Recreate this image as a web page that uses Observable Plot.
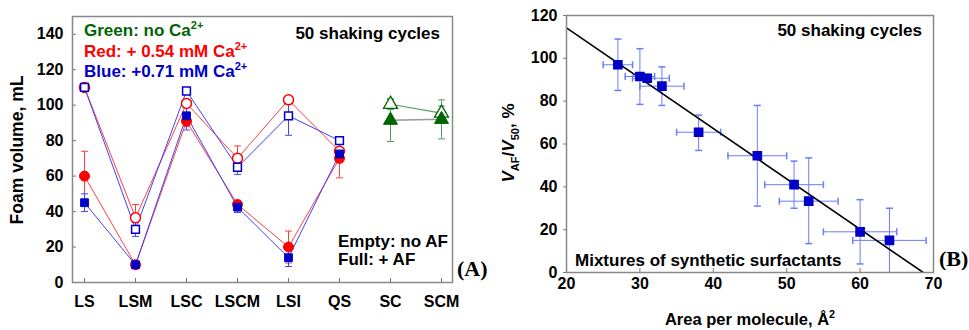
<!DOCTYPE html>
<html>
<head>
<meta charset="utf-8">
<script src="https://cdn.jsdelivr.net/npm/d3@7"></script>
<script src="https://cdn.jsdelivr.net/npm/@observablehq/plot@0.6"></script>
<style>
  body { margin: 0; background: #fff; }
  #wrap { position: relative; width: 969px; height: 330px; overflow: hidden; background: #fff; }
  #left { position: absolute; left: 0; top: 0; }
  #right { position: absolute; left: 480px; top: 0; }
  #wrap svg { overflow: visible; }
</style>
</head>
<body>
<div id="wrap"><div id="right"></div><div id="left"></div></div>
<script>
// ---------- Panel A data ----------
const allCats = ["LS", "LSM", "LSC", "LSCM", "LSI", "QS", "SC", "SCM"];
const mixCats = ["LS", "LSM", "LSC", "LSCM", "LSI", "QS"];
const redEmpty = [110, 36.5, 101, 70, 103, 74];
const redEmptyErr = [0, 7.5, 0, 7, 0, 0];
const redFull = [60, 10, 91, 44, 20, 70];
const redFullErr = [14, 0, 3, 0, 9, 11];
const blueEmpty = [110, 30, 108, 65, 94, 80];
const blueEmptyErr = [0, 4, 0, 4, 11, 0];
const blueFull = [45, 10, 94, 42.5, 14, 72.5];
const blueFullErr = [5, 0, 8, 3, 5, 0];
const greenCats = ["SC", "SCM"];
const greenEmpty = [100.5, 95.5];
const greenEmptyErr = [3, 4];
const greenFull = [91.5, 92];
const greenFullErr = [12, 11];
const yTicksA = [0, 20, 40, 60, 80, 100, 120, 140];

// ---------- Panel B data ----------
const areaX = [27, 30, 31, 33, 38, 46, 51, 53, 60, 64];
const ratioY = [97, 91.5, 90.7, 87, 65.5, 54.5, 41, 33.3, 19, 15];
const xErrLo = [25, 28, 29, 30, 35, 42, 47, 49, 55, 59];
const xErrHi = [29, 32, 34, 36, 41, 50, 55, 57, 65, 69];
const yErrLo = [85, 78.5, 89, 78, 57, 31, 30, 13.5, 4, 0];
const yErrHi = [109, 104.5, 92.5, 96, 73.5, 78, 52, 53.5, 34, 30];
const fitX = [20, 68.6];
const fitY = [114.2, 0];
const xTicksB = [20, 30, 40, 50, 60, 70];
const yTicksB = [0, 20, 40, 60, 80, 100, 120];

const RED = "#ff0000", BLUE = "#0000c8", GREEN = "#006400";
const RED_L = "#ff4040", BLUE_L = "#4040ff", GREEN_L = "#4f9f5f";
const EB_B = "#6b7cff";

const hCap = {draw(ctx) { ctx.moveTo(-3.5, 0); ctx.lineTo(3.5, 0); }};
const vCap = {draw(ctx) { ctx.moveTo(0, -3.5); ctx.lineTo(0, 3.5); }};

function rows(cats, vals, errs) {
  return cats.map((c, i) => ({cat: c, v: vals[i], e: errs[i]}));
}
const rE = rows(mixCats, redEmpty, redEmptyErr);
const rF = rows(mixCats, redFull, redFullErr);
const bE = rows(mixCats, blueEmpty, blueEmptyErr);
const bF = rows(mixCats, blueFull, blueFullErr);
const gE = rows(greenCats, greenEmpty, greenEmptyErr);
const gF = rows(greenCats, greenFull, greenFullErr);

function errMarks(data, color) {
  const d = data.filter(r => r.e > 0);
  const caps = d.flatMap(r => [{cat: r.cat, y: r.v - r.e}, {cat: r.cat, y: r.v + r.e}]);
  return [
    Plot.ruleX(d, {x: "cat", y1: r => r.v - r.e, y2: r => r.v + r.e, stroke: color, strokeWidth: 1}),
    Plot.dot(caps, {x: "cat", y: "y", symbol: hCap, stroke: color, fill: "none", strokeWidth: 1})
  ];
}

const font = {fontFamily: "'Liberation Sans', Arial, sans-serif", fontWeight: "bold", fontSize: "16px", background: "transparent", overflow: "visible"};

const plotA = Plot.plot({
  width: 480, height: 330,
  marginLeft: 72, marginRight: 28, marginTop: 16, marginBottom: 48,
  style: font,
  x: {type: "point", domain: allCats, padding: 0.2},
  y: {domain: [0, 150]},
  marks: [
    ...errMarks(rE, RED_L), ...errMarks(rF, RED_L),
    ...errMarks(bE, BLUE_L), ...errMarks(bF, BLUE_L),
    ...errMarks(gE, GREEN_L), ...errMarks(gF, GREEN_L),
    Plot.line(rE, {x: "cat", y: "v", stroke: RED_L, strokeWidth: 1}),
    Plot.line(rF, {x: "cat", y: "v", stroke: RED_L, strokeWidth: 1}),
    Plot.line(bE, {x: "cat", y: "v", stroke: BLUE_L, strokeWidth: 1}),
    Plot.line(bF, {x: "cat", y: "v", stroke: BLUE_L, strokeWidth: 1}),
    Plot.line(gE, {x: "cat", y: "v", stroke: GREEN_L, strokeWidth: 1.2}),
    Plot.line(gF, {x: "cat", y: "v", stroke: "#999", strokeWidth: 1.5}),
    Plot.dot(rE, {x: "cat", y: "v", symbol: "circle", r: 5, stroke: RED, fill: "white", strokeWidth: 1.5}),
    Plot.dot(rF, {x: "cat", y: "v", symbol: "circle", r: 5, fill: RED, stroke: RED, strokeWidth: 1}),
    Plot.dot(bE, {x: "cat", y: "v", symbol: "square", r: 4.4, stroke: BLUE, fill: "white", strokeWidth: 1.5}),
    Plot.dot(bF, {x: "cat", y: "v", symbol: "square", r: 4.4, fill: BLUE, stroke: BLUE, strokeWidth: 1}),
    Plot.dot(gE, {x: "cat", y: "v", symbol: "triangle", r: 5.2, stroke: GREEN, fill: "white", strokeWidth: 1.3}),
    Plot.dot(gF, {x: "cat", y: "v", symbol: "triangle", r: 5.2, fill: GREEN, stroke: GREEN, strokeWidth: 1}),
    Plot.axisY({ticks: yTicksA, tickSize: -4, tickPadding: 13, label: null, stroke: "#777"}),
    Plot.axisX({tickSize: -4, tickPadding: 17, label: null, stroke: "#777"}),
    Plot.frame({stroke: "#888", strokeWidth: 1.5})
  ]
});

const fitRows = fitX.map((x, i) => ({x, y: fitY[i]}));
const ptRows = areaX.map((x, i) => ({x, y: ratioY[i], xl: xErrLo[i], xh: xErrHi[i], yl: yErrLo[i], yh: yErrHi[i]}));
const vCaps = ptRows.flatMap(r => [{x: r.x, y: r.yl}, {x: r.x, y: r.yh}]).filter(r => r.y > 0);
const hCaps = ptRows.flatMap(r => [{x: r.xl, y: r.y}, {x: r.xh, y: r.y}]);

const plotB = Plot.plot({
  width: 489, height: 330,
  marginLeft: 86, marginRight: 36, marginTop: 15, marginBottom: 58,
  style: font,
  x: {domain: [20, 70]},
  y: {domain: [0, 120]},
  marks: [
    Plot.ruleX(ptRows, {x: "x", y1: "yl", y2: "yh", stroke: EB_B, strokeWidth: 1}),
    Plot.ruleY(ptRows, {y: "y", x1: "xl", x2: "xh", stroke: EB_B, strokeWidth: 1}),
    Plot.dot(vCaps, {x: "x", y: "y", symbol: hCap, stroke: EB_B, fill: "none"}),
    Plot.dot(hCaps, {x: "x", y: "y", symbol: vCap, stroke: EB_B, fill: "none"}),
    Plot.line(fitRows, {x: "x", y: "y", stroke: "black", strokeWidth: 1.6, clip: true}),
    Plot.dot(ptRows, {x: "x", y: "y", symbol: "square", r: 4.6, fill: BLUE, stroke: BLUE}),
    Plot.axisY({ticks: yTicksB, tickSize: 3, tickPadding: 6, label: null, stroke: "#777"}),
    Plot.axisX({ticks: xTicksB, tickSize: -4, tickPadding: 9, label: null, stroke: "#777"}),
    Plot.frame({stroke: "#888", strokeWidth: 1.5})
  ]
});

document.getElementById("left").appendChild(plotA);
document.getElementById("right").appendChild(plotB);

// ---------- rich-text annotations ----------
function rich(svgNode, {x, y, anchor = "start", size = 17, color = "black", rotate = 0,
                        family = "'Liberation Sans', Arial, sans-serif", weight = "bold"}, parts) {
  const t = d3.select(svgNode).append("text")
    .attr("transform", `translate(${x},${y}) rotate(${rotate})`)
    .attr("text-anchor", anchor)
    .attr("fill", color)
    .style("font-family", family)
    .style("font-weight", weight)
    .style("font-size", size + "px");
  let shift = 0;
  for (const p of parts) {
    const s = typeof p === "string" ? {text: p} : p;
    const target = s.sup ? -0.42 * size : s.sub ? 0.28 * size : 0;
    const ts = t.append("tspan").text(s.text).attr("dy", target - shift);
    if (s.sup || s.sub) ts.style("font-size", (size * 0.65) + "px");
    if (s.italic) ts.style("font-style", "italic");
    shift = target;
  }
  return t;
}

// Panel A texts
rich(plotA, {x: 23, y: 150, anchor: "middle", rotate: -90, size: 17.5}, ["Foam volume, mL"]);
rich(plotA, {x: 84, y: 36, color: GREEN}, ["Green: no Ca", {text: "2+", sup: true}]);
rich(plotA, {x: 84, y: 57, color: RED}, ["Red: + 0.54 mM Ca", {text: "2+", sup: true}]);
rich(plotA, {x: 84, y: 77, color: BLUE}, ["Blue: +0.71 mM Ca", {text: "2+", sup: true}]);
rich(plotA, {x: 440, y: 39, anchor: "end"}, ["50 shaking cycles"]);
rich(plotA, {x: 338, y: 247}, ["Empty: no AF"]);
rich(plotA, {x: 338, y: 265}, ["Full: + AF"]);
rich(plotA, {x: 457, y: 276, size: 22, family: "'Liberation Serif', 'Times New Roman', serif"}, ["(A)"]);

// Panel B texts
rich(plotB, {x: 34, y: 143, anchor: "middle", rotate: -90},
  [{text: "V", italic: true}, {text: "AF", sub: true}, "/", {text: "V", italic: true}, {text: "50", sub: true}, ", %"]);
rich(plotB, {x: 442, y: 36, anchor: "end"}, ["50 shaking cycles"]);
rich(plotB, {x: 95, y: 266}, ["Mixtures of synthetic surfactants"]);
rich(plotB, {x: 270, y: 325, anchor: "middle", size: 16.5}, ["Area per molecule, Å", {text: "2", sup: true}]);
rich(plotB, {x: 459, y: 266, size: 22, family: "'Liberation Serif', 'Times New Roman', serif"}, ["(B)"]);
</script>
</body>
</html>
